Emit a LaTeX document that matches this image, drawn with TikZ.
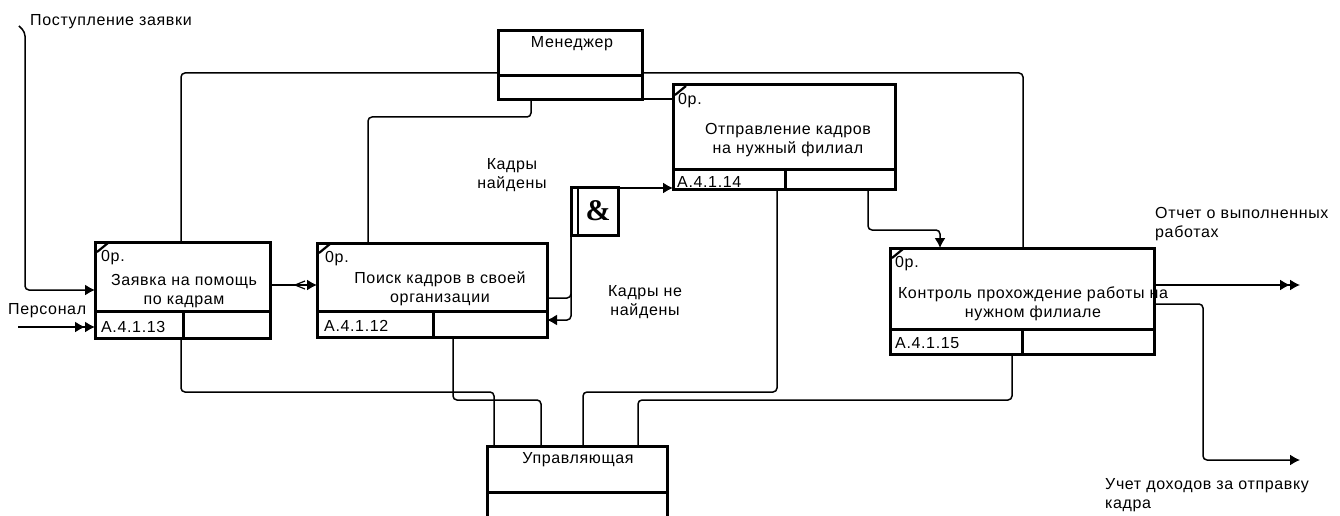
\documentclass[tikz,border=0pt]{standalone}
\usepackage{fontspec}
\setmainfont{Liberation Sans}[LetterSpace=4]
\newfontfamily\ampfont{Liberation Serif}
\usetikzlibrary{arrows.meta}

\begin{document}
\begin{tikzpicture}[x=1pt, y=-1pt,
    every node/.style={font=\fontsize{16}{19}\selectfont, inner sep=0pt},
    actbox/.style={draw, line width=3pt, rectangle, outer sep=0pt},
    cell/.style={line width=3pt},
    link/.style={line width=1.5pt, rounded corners=4pt},
    flow/.style={link, -{Latex[length=10pt,width=11pt]}},
    dflow/.style={link, -{Latex[length=10pt,width=11pt]Latex[length=10pt,width=11pt]}},
    tick/.style={line width=2.2pt}]
    \useasboundingbox (0,0) rectangle (1340,516);
    \clip (0,0) rectangle (1340,516);

    \node[actbox, minimum width=175pt, minimum height=96pt] (b1) at (182.5,290) {};
    \node[actbox, minimum width=230pt, minimum height=94pt] (b2) at (432,290) {};
    \node[actbox, minimum width=222pt, minimum height=104pt] (b3) at (784,137) {};
    \node[actbox, minimum width=264pt, minimum height=106pt] (b4) at (1022,301) {};
    \node[actbox, minimum width=144pt, minimum height=69pt] (mgr) at (570,65.5) {};
    \node[actbox, minimum width=180pt, minimum height=72pt] (upr) at (577,482) {};
    \node[actbox, minimum width=47pt, minimum height=48pt,
          font=\ampfont\bfseries\fontsize{30}{30}\selectfont] (and) at (594.5,211) {\hspace*{7pt}\&};

    \draw[cell] (b1.west |- 0,311) -- (b1.east |- 0,311);
    \draw[cell] (b1.south -| 183,0) -- (183,311);
    \draw[cell] (b2.west |- 0,311) -- (b2.east |- 0,311);
    \draw[cell] (b2.south -| 433,0) -- (433,311);
    \draw[cell] (b3.west |- 0,169) -- (b3.east |- 0,169);
    \draw[cell] (b3.south -| 785,0) -- (785,169);
    \draw[cell] (b4.west |- 0,329) -- (b4.east |- 0,329);
    \draw[cell] (b4.south -| 1022,0) -- (1022,329);
    \draw[cell] (mgr.west |- 0,76) -- (mgr.east |- 0,76);
    \draw[cell] (upr.west |- 0,492) -- (upr.east |- 0,492);
    \draw[line width=1.8pt] ([xshift=7pt]and.north west) -- ([xshift=7pt]and.south west);

    \foreach \b in {b1,b2,b3,b4}
        \draw[tick] ([shift={(2,10)}]\b.north west) -- ([shift={(13,1)}]\b.north west);

    \node[anchor=base west] (b1c) at (101,261) {0р.};
    \node[align=center, anchor=base] (b1t) at (184,304) {Заявка на помощь\\по кадрам};
    \node[anchor=base west] (b1n) at (101,332) {A.4.1.13};
    \node[anchor=base west] (b2c) at (325,262) {0р.};
    \node[align=center, anchor=base] (b2t) at (440,302) {Поиск кадров в своей\\организации};
    \node[anchor=base west] (b2n) at (324,331) {A.4.1.12};
    \node[anchor=base west] (b3c) at (678,105) {0р.};
    \node[align=center, anchor=base] (b3t) at (788,153) {Отправление кадров\\на нужный филиал};
    \node[anchor=base west] (b3n) at (677,187) {A.4.1.14};
    \node[anchor=base west] (b4c) at (895,267) {0р.};
    \node[align=center, anchor=base] (b4t) at (1033,317) {Контроль прохождение работы на\\нужном филиале};
    \node[anchor=base west] (b4n) at (895,348) {A.4.1.15};
    \node[anchor=base] (mgrt) at (572,48) {Менеджер};
    \node[anchor=base] (uprt) at (578,463) {Управляющая};

    \node[anchor=base west] (inReq) at (30,26) {Поступление заявки};
    \node[anchor=base west] (inStaff) at (8,314) {Персонал};
    \node[align=center, anchor=base] (found) at (512,188) {Кадры\\найдены};
    \node[align=center, anchor=base] (notFound) at (645,315) {Кадры не\\найдены};
    \node[align=left, anchor=base west] (outRep) at (1155,237) {Отчет о выполненных\\работах};
    \node[align=left, anchor=base west] (outInc) at (1105,508) {Учет доходов за отправку\\кадра};

    \coordinate (reqStart) at (19,26);
    \coordinate (staffStart) at (18,327);
    \coordinate (repEnd) at (1300,285);
    \coordinate (incEnd) at (1300,460);

    \draw[flow] (reqStart) -- (25,32) -- (25,290) -- (b1.west |- 0,290);
    \draw[dflow] (staffStart) -- (b1.west |- 0,327);
    \draw[flow] (b1.east |- 0,285) -- (b2.west |- 0,285);
    \draw[line width=1.2pt] (305,281) -- (295,285) -- (305,289);
    \draw[link] (b2.east |- 0,298) -- (571,298) -- (and.south west);
    \draw[flow] (and.south west) -- (571,320) -- (b2.east |- 0,320);
    \draw[flow] (and.east |- 0,188) -- (b3.west |- 0,188);
    \draw[flow] (b3.south -| 868,0) -- (868,230) -- (940,230) -- (b4.north -| 940,0);

    \draw[link] (mgr.west |- 0,73) -- (181,73) -- (b1.north -| 181,0);
    \draw[link] (mgr.east |- 0,73) -- (1023,73) -- (b4.north -| 1023,0);
    \draw[link] (mgr.south -| 531,0) -- (531,117) -- (368,117) -- (b2.north -| 368,0);
    \draw[link] (mgr.east |- 0,99) -- (b3.west |- 0,99);

    \draw[link] (b1.south -| 181,0) -- (181,392) -- (494,392) -- (upr.north -| 494,0);
    \draw[link] (b2.south -| 453,0) -- (453,400) -- (541,400) -- (upr.north -| 541,0);
    \draw[link] (b3.south -| 777,0) -- (777,392) -- (583,392) -- (upr.north -| 583,0);
    \draw[link] (b4.south -| 1012,0) -- (1012,400) -- (638,400) -- (upr.north -| 638,0);

    \draw[dflow] (b4.east |- 0,285) -- (repEnd);
    \draw[flow] (b4.east |- 0,304) -- (1203,304) -- (1203,460) -- (incEnd);
\end{tikzpicture}
\end{document}
